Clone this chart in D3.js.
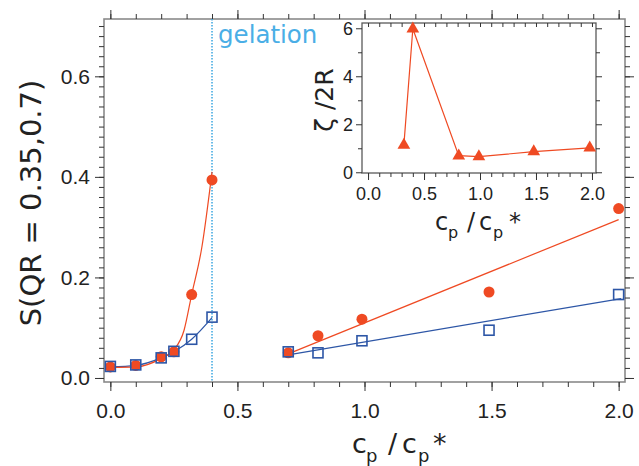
<!DOCTYPE html>
<html>
<head>
<meta charset="utf-8">
<script src="https://cdn.jsdelivr.net/npm/d3@7"></script>
<style>
  html, body { margin: 0; padding: 0; background: #fff; }
  svg { display: block; font-family: "DejaVu Sans", sans-serif; }
  .tick line { stroke: #333; }
  .domain { display: none; }
</style>
</head>
<body>
<div id="chart"></div>
<script>
// ---------- data ----------
// main panel: measured points
const lowX      = [0, 0.1, 0.2, 0.25, 0.32, 0.4];
const lowRed    = [0.022, 0.025, 0.042, 0.052, 0.166, 0.394];
const lowBlue   = [0.023, 0.026, 0.040, 0.053, 0.077, 0.121];
const highX     = [0.7, 0.817, 0.99, 1.49, 2.0];
const highRed   = [0.050, 0.084, 0.117, 0.171, 0.337];
const highBlue  = [0.052, 0.050, 0.074, 0.095, 0.166];

// fit curves
const redCurveX  = [0, 0.1, 0.2, 0.25, 0.29, 0.32, 0.36, 0.4];
const redCurveY  = [0.021, 0.022, 0.039, 0.056, 0.095, 0.166, 0.26, 0.41];
const blueCurveX = [0, 0.1, 0.2, 0.25, 0.32, 0.4];
const blueCurveY = [0.022, 0.025, 0.040, 0.052, 0.077, 0.120];
const redLineX   = [0.7, 2.0];
const redLineY   = [0.048, 0.315];
const blueLineX  = [0.7, 2.01];
const blueLineY  = [0.046, 0.158];

const gelationX = 0.4;

// inset: correlation length
const insetX = [0.32, 0.40, 0.81, 0.99, 1.48, 1.98];
const insetY = [1.13, 5.98, 0.69, 0.65, 0.86, 1.02];

// ticks
const xMajor = [0, 0.5, 1.0, 1.5, 2.0];
const xMinor = d3.range(0, 21).map(i => i / 10);
const yMajor = [0, 0.2, 0.4, 0.6];
const yMinor = d3.range(0, 36).map(i => i / 50);
const inXMajor = [0, 0.5, 1.0, 1.5, 2.0];
const inXMinor = d3.range(0, 21).map(i => i / 10);
const inYMajor = [0, 2, 4, 6];
const inYMinor = [1, 3, 5];

// ---------- layout ----------
const W = 639, H = 466;
const RED = '#ef4a23', BLUE = '#2d56a6', SKY = '#3ba7e0';

const svg = d3.select('#chart').append('svg')
  .attr('width', W).attr('height', H);

const m = { l: 104, r: 625, t: 19, b: 382 };
const x = d3.scaleLinear().domain([-0.025, 2.025]).range([m.l, m.r]);
const y = d3.scaleLinear().domain([-0.008, 0.714]).range([m.b, m.t]);

// axes helper: adds an axis group and styles tick labels
function addAxis(axis, tx, ty, size) {
  const g = svg.append('g')
    .attr('transform', `translate(${tx},${ty})`)
    .call(axis);
  g.selectAll('text').attr('fill', '#222').style('font-size', size + 'px');
  return g;
}

// main frame
svg.append('rect')
  .attr('x', m.l).attr('y', m.t)
  .attr('width', m.r - m.l).attr('height', m.b - m.t)
  .attr('fill', 'none').attr('stroke', '#8a8a8a').attr('stroke-width', 1.6);

// main ticks (outward on all four sides)
addAxis(d3.axisBottom(x).tickValues(xMinor).tickSize(5).tickFormat(''), 0, m.b, 21);
addAxis(d3.axisBottom(x).tickValues(xMajor).tickSize(9).tickPadding(12).tickFormat(d3.format('.1f')), 0, m.b, 21);
addAxis(d3.axisTop(x).tickValues(xMinor).tickSize(5).tickFormat(''), 0, m.t, 21);
addAxis(d3.axisTop(x).tickValues(xMajor).tickSize(9).tickFormat(''), 0, m.t, 21);
addAxis(d3.axisLeft(y).tickValues(yMinor).tickSize(5).tickFormat(''), m.l, 0, 21);
addAxis(d3.axisLeft(y).tickValues(yMajor).tickSize(9).tickPadding(5).tickFormat(d3.format('.1f')), m.l, 0, 21);
addAxis(d3.axisRight(y).tickValues(yMinor).tickSize(5).tickFormat(''), m.r, 0, 21);
addAxis(d3.axisRight(y).tickValues(yMajor).tickSize(9).tickFormat(''), m.r, 0, 21);

// gelation marker
svg.append('line')
  .attr('x1', x(gelationX)).attr('x2', x(gelationX))
  .attr('y1', m.t).attr('y2', m.b)
  .attr('stroke', SKY).attr('stroke-width', 1.5).attr('stroke-dasharray', '1.5,1.5');
svg.append('text')
  .attr('x', x(gelationX) + 6).attr('y', 43)
  .attr('fill', '#4aaee6').style('font-size', '24.5px')
  .text('gelation');

// fit curves / lines
const zip = (xs, ys) => xs.map((v, i) => [v, ys[i]]);
const curve = d3.line().x(d => x(d[0])).y(d => y(d[1])).curve(d3.curveMonotoneX);
const straight = d3.line().x(d => x(d[0])).y(d => y(d[1]));

svg.append('path').attr('d', curve(zip(blueCurveX, blueCurveY)))
  .attr('fill', 'none').attr('stroke', BLUE).attr('stroke-width', 1.2);
svg.append('path').attr('d', curve(zip(redCurveX, redCurveY)))
  .attr('fill', 'none').attr('stroke', RED).attr('stroke-width', 1.2);
svg.append('path').attr('d', straight(zip(blueLineX, blueLineY)))
  .attr('fill', 'none').attr('stroke', BLUE).attr('stroke-width', 1.2);
svg.append('path').attr('d', straight(zip(redLineX, redLineY)))
  .attr('fill', 'none').attr('stroke', RED).attr('stroke-width', 1.2);

// markers: red filled circles, then open blue squares on top
const redPts = zip(lowX, lowRed).concat(zip(highX, highRed));
const bluePts = zip(lowX, lowBlue).concat(zip(highX, highBlue));

svg.append('g').selectAll('circle')
  .data(redPts).enter().append('circle')
  .attr('cx', d => x(d[0])).attr('cy', d => y(d[1]))
  .attr('r', 5.5).attr('fill', RED);

svg.append('g').selectAll('rect')
  .data(bluePts).enter().append('rect')
  .attr('x', d => x(d[0]) - 5).attr('y', d => y(d[1]) - 5)
  .attr('width', 10).attr('height', 10)
  .attr('fill', 'none').attr('stroke', BLUE).attr('stroke-width', 1.6);

// main axis titles
const xt = svg.append('text').attr('fill', '#222').attr('y', 453).style('font-size', '27px');
xt.append('tspan').attr('x', 352).text('c');
xt.append('tspan').attr('x', 366).attr('dy', 9).style('font-size', '18px').text('p');
xt.append('tspan').attr('x', 388).attr('dy', -9).text('/');
xt.append('tspan').attr('x', 402).text('c');
xt.append('tspan').attr('x', 418).attr('dy', 9).style('font-size', '18px').text('p');
xt.append('tspan').attr('x', 433).attr('dy', -9).text('*');

svg.append('text')
  .attr('transform', 'translate(41,203) rotate(-90)')
  .attr('text-anchor', 'middle').attr('fill', '#222')
  .style('font-size', '29px')
  .text('S(QR = 0.35,0.7)');

// ---------- inset ----------
const im = { l: 362, r: 596, t: 23, b: 173 };
const ix = d3.scaleLinear().domain([-0.054, 2.036]).range([im.l, im.r]);
const iy = d3.scaleLinear().domain([-0.03, 6.22]).range([im.b, im.t]);

svg.append('rect')
  .attr('x', im.l).attr('y', im.t)
  .attr('width', im.r - im.l).attr('height', im.b - im.t)
  .attr('fill', '#fff').attr('stroke', '#5a5a5a').attr('stroke-width', 1.3);

addAxis(d3.axisBottom(ix).tickValues(inXMinor).tickSize(4).tickFormat(''), 0, im.b, 17);
addAxis(d3.axisBottom(ix).tickValues(inXMajor).tickSize(7).tickPadding(7).tickFormat(d3.format('.1f')), 0, im.b, 18);
addAxis(d3.axisBottom(ix).tickValues(inXMinor).tickSize(4).tickFormat(''), 0, im.t, 17);
addAxis(d3.axisLeft(iy).tickValues(inYMinor).tickSize(4).tickFormat(''), im.l, 0, 17);
addAxis(d3.axisLeft(iy).tickValues(inYMajor).tickSize(6).tickPadding(3).tickFormat(d3.format('d')), im.l, 0, 18);
addAxis(d3.axisRight(iy).tickValues(inYMinor).tickSize(4).tickFormat(''), im.r, 0, 17);
addAxis(d3.axisRight(iy).tickValues(inYMajor).tickSize(6).tickFormat(''), im.r, 0, 17);

const inPts = zip(insetX, insetY);
svg.append('path').attr('d', straight.x(d => ix(d[0])).y(d => iy(d[1]))(inPts))
  .attr('fill', 'none').attr('stroke', RED).attr('stroke-width', 1.2);
svg.append('g').selectAll('path')
  .data(inPts).enter().append('path')
  .attr('transform', d => `translate(${ix(d[0])},${iy(d[1])})`)
  .attr('d', d3.symbol(d3.symbolTriangle, 70))
  .attr('fill', RED);

const it = svg.append('text').attr('fill', '#222').attr('y', 230).style('font-size', '24px');
it.append('tspan').attr('x', 435).text('c');
it.append('tspan').attr('x', 448).attr('dy', 8).style('font-size', '16px').text('p');
it.append('tspan').attr('x', 467).attr('dy', -8).text('/');
it.append('tspan').attr('x', 479).text('c');
it.append('tspan').attr('x', 493).attr('dy', 8).style('font-size', '16px').text('p');
it.append('tspan').attr('x', 509).attr('dy', -8).text('*');

svg.append('text')
  .attr('transform', 'translate(333,100) rotate(-90)')
  .attr('text-anchor', 'middle').attr('fill', '#222')
  .style('font-size', '25px')
  .text('ζ /2R');
</script>
</body>
</html>
